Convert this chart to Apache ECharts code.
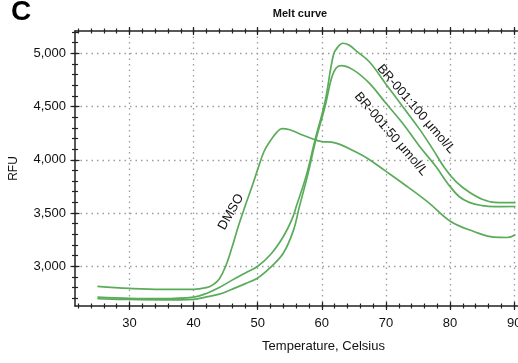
<!DOCTYPE html>
<html>
<head>
<meta charset="utf-8">
<script src="https://cdn.jsdelivr.net/npm/echarts@6/dist/echarts.min.js"></script>
<style>
html,body{margin:0;padding:0;background:#fff;overflow:hidden;}
#c{width:540px;height:363px;}
</style>
</head>
<body>
<div id="c"></div>
<script>
// ---- data ----
const dmsoT = [25,30,35,40,42,43,44,45,46,47,48,49,50,51,52,53,53.8,55,56.5,58.4,60,61.5,63,65.4,67.2,69.8,72.6,76.6,80.1,83.7,86.8,88.9,90.2];
const dmsoV = [2811,2792,2783,2783,2800,2825,2880,3000,3180,3380,3560,3730,3910,4080,4180,4260,4293,4282,4245,4200,4170,4165,4140,4070,4010,3900,3780,3600,3420,3327,3274,3270,3296];

const br100T = [25,30,35,40,42,44,46,48,50,52,54,55.3,56.1,57.6,58.9,60.5,61.8,62.5,63.3,64.3,65.4,67.4,70,72.6,75.2,77.3,79.3,81,82.9,85,87,90.2];
const br100V = [2711,2700,2697,2711,2745,2800,2870,2935,3000,3110,3280,3436,3577,3858,4177,4546,4984,5060,5094,5075,5020,4920,4710,4500,4290,4100,3910,3790,3700,3630,3600,3597];

const br50T = [25,30,35,40,42,44,46,48,50,52,54,55.6,56.5,57.8,59.0,60.5,61.5,62.2,63.0,64.9,67.4,70,72.6,75.2,77.8,79.6,81.4,83,85,87,90.2];
const br50V = [2695,2688,2685,2690,2712,2738,2785,2835,2890,2990,3124,3343,3560,3858,4170,4500,4765,4860,4884,4844,4719,4530,4343,4130,3936,3780,3655,3600,3570,3560,3561];

const seriesNames = ['DMSO','BR-001:100 μmol/L','BR-001:50 μmol/L'];

const xMajor = [30,40,50,60,70,80,90];
const xMinor = [22,24,26,28,30,32,34,36,38,40,42,44,46,48,50,52,54,56,58,60,62,64,66,68,70,72,74,76,78,80,82,84,86,88,90,92];
const yMajor = [3000,3500,4000,4500,5000];
const yMinor = [2700,2800,2900,3000,3100,3200,3300,3400,3500,3600,3700,3800,3900,4000,4100,4200,4300,4400,4500,4600,4700,4800,4900,5000,5100,5200];

const X_MIN = 21.5, X_MAX = 92, Y_MIN = 2627, Y_MAX = 5209;

// ---- chart ----
const FONT = '"Liberation Sans", Arial, sans-serif';
const AXC = '#222';
const GREEN = '#5aab5a';

function pairs(t, v){ return t.map((x,i)=>[x, v[i]]); }

function tickAxisX(pos, values, len, offset){
  return {
    type:'value', position:pos, min:X_MIN, max:X_MAX, offset:offset,
    axisLine:{show:false, onZero:false},
    axisTick:{show:true, customValues:values, length:len, lineStyle:{color:AXC, width:1.2}},
    axisLabel:{show:false}, splitLine:{show:false}
  };
}
function tickAxisY(pos, values, len, offset){
  return {
    type:'value', position:pos, min:Y_MIN, max:Y_MAX, offset:offset,
    axisLine:{show:false, onZero:false},
    axisTick:{show:true, customValues:values, length:len, lineStyle:{color:AXC, width:1.2}},
    axisLabel:{show:false}, splitLine:{show:false}
  };
}

const grid = {left:72, top:31, width:455, height:275, containLabel:false};
const splitStyle = {show:true, lineStyle:{color:'#9c9c9c', width:1.3, type:[1.5,4]}};

const option = {
  animation:false,
  backgroundColor:'#fff',
  grid: grid,
  xAxis: [
    {
      type:'value', position:'bottom', min:X_MIN, max:X_MAX,
      name:'Temperature, Celsius', nameLocation:'middle', nameGap:34,
      nameTextStyle:{fontFamily:FONT, fontSize:13, color:'#111', padding:[0,0,0,45]},
      axisLine:{show:true, onZero:false, lineStyle:{color:AXC, width:1.5}},
      axisTick:{show:false, customValues:xMajor},
      axisLabel:{customValues:xMajor, fontFamily:FONT, fontSize:13, color:'#111', margin:11},
      splitLine:splitStyle
    },
    tickAxisX('bottom', xMajor, 8, -4),
    tickAxisX('bottom', xMinor, 5, -2.5),
    {
      type:'value', position:'top', min:X_MIN, max:X_MAX,
      axisLine:{show:true, onZero:false, lineStyle:{color:AXC, width:1.5}},
      axisTick:{show:false}, axisLabel:{show:false}, splitLine:{show:false}
    },
    tickAxisX('top', xMajor, 8, -4),
    tickAxisX('top', xMinor, 5, -2.5)
  ],
  yAxis: [
    {
      type:'value', position:'left', min:Y_MIN, max:Y_MAX,
      name:'RFU', nameLocation:'middle', nameGap:55,
      nameTextStyle:{fontFamily:FONT, fontSize:12, color:'#111'},
      axisLine:{show:true, onZero:false, lineStyle:{color:AXC, width:1.5}},
      axisTick:{show:false, customValues:yMajor},
      axisLabel:{customValues:yMajor, fontFamily:FONT, fontSize:13, color:'#111', margin:9,
        formatter:(v)=>v.toLocaleString('en-US')},
      splitLine:splitStyle
    },
    tickAxisY('left', yMajor, 9, -4.5),
    tickAxisY('left', yMinor, 6, -3)
  ],
  series: [
    {name:seriesNames[0], type:'line', data:pairs(dmsoT, dmsoV), smooth:0.4, showSymbol:false,
     lineStyle:{color:GREEN, width:1.7}, xAxisIndex:0, yAxisIndex:0},
    {name:seriesNames[1], type:'line', data:pairs(br100T, br100V), smooth:0.4, showSymbol:false,
     lineStyle:{color:GREEN, width:1.7}, xAxisIndex:0, yAxisIndex:0},
    {name:seriesNames[2], type:'line', data:pairs(br50T, br50V), smooth:0.4, showSymbol:false,
     lineStyle:{color:GREEN, width:1.7}, xAxisIndex:0, yAxisIndex:0}
  ],
  graphic: [
    {type:'text', x:11, y:12, style:{text:'C', font:'bold 28px ' + FONT, fill:'#000', align:'left', verticalAlign:'middle'}},
    {type:'text', x:300, y:14, style:{text:'Melt curve', font:'bold 11px ' + FONT, fill:'#111', align:'center', verticalAlign:'middle'}},
    {type:'text', x:231, y:212, rotation:1.056, style:{text:seriesNames[0], font:'13px ' + FONT, fill:'#111', align:'center', verticalAlign:'middle'}},
    {type:'text', x:416, y:109, rotation:-0.86, style:{text:seriesNames[1], font:'13px ' + FONT, fill:'#111', align:'center', verticalAlign:'middle'}},
    {type:'text', x:391, y:134, rotation:-0.86, style:{text:seriesNames[2], font:'13px ' + FONT, fill:'#111', align:'center', verticalAlign:'middle'}}
  ]
};

const chart = echarts.init(document.getElementById('c'), null, {renderer:'canvas'});
chart.setOption(option);
</script>
</body>
</html>
